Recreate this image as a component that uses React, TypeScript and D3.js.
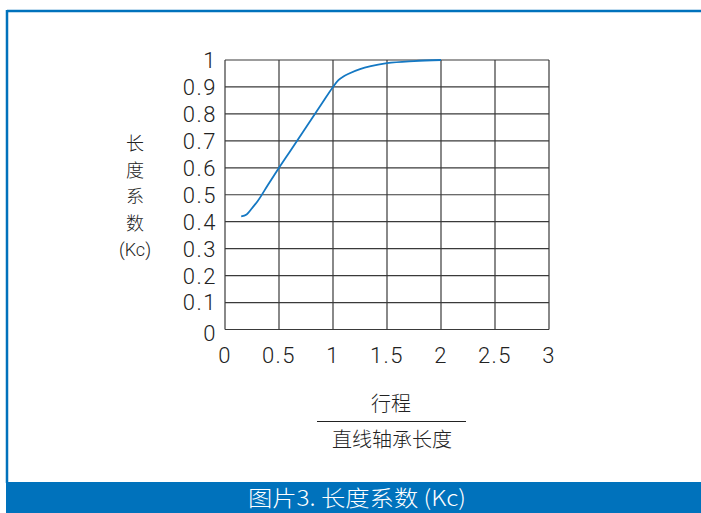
import React from "react";
import * as d3 from "d3";

const strokeRatio: number[] = [0.15, 0.2, 0.25, 0.3, 0.4, 0.5, 0.6, 0.7, 0.8, 0.9, 1.0, 1.05, 1.1, 1.15, 1.25, 1.35, 1.5, 1.75, 2.0];
const lengthCoef: number[] = [0.42, 0.427, 0.45, 0.475, 0.538, 0.6, 0.66, 0.72, 0.78, 0.84, 0.9, 0.925, 0.94, 0.95, 0.966, 0.977, 0.988, 0.996, 1.0];
const xTicks: number[] = [0, 0.5, 1, 1.5, 2, 2.5, 3];
const yTicks: number[] = [0, 0.1, 0.2, 0.3, 0.4, 0.5, 0.6, 0.7, 0.8, 0.9, 1];
const yTitleChars: string[] = ["长", "度", "系", "数", "(Kc)"];
const xTitleTop = "行程";
const xTitleBottom = "直线轴承长度";
const caption = "图片3. 长度系数 (Kc)";

const W = 701;
const H = 513;
const BLUE = "#0072BC";

export default function App() {
  const x = d3.scaleLinear().domain([0, 3]).range([225, 549]);
  const y = d3.scaleLinear().domain([0, 1]).range([329.5, 60]);
  const pts: [number, number][] = strokeRatio.map((d, i) => [d, lengthCoef[i]]);
  const line = d3
    .line<[number, number]>()
    .x((d) => x(d[0]))
    .y((d) => y(d[1]))
    .curve(d3.curveMonotoneX);
  const fmt = (v: number) => (v === 0 ? "0" : v === 1 ? "1" : String(+v.toFixed(1)));
  const num = "Roboto, 'Liberation Sans', Arial, sans-serif";
  const cjk = "'Noto Sans CJK SC', sans-serif";
  return (
    <div style={{ position: "fixed", left: 0, top: 0 }}>
      <svg width={W} height={H} viewBox={`0 0 ${W} ${H}`} style={{ display: "block", background: "#fff" }}>
        {/* frame */}
        <line x1={7} y1={11} x2={W} y2={11} stroke={BLUE} strokeWidth={2.5} />
        <line x1={7} y1={10} x2={7} y2={483} stroke={BLUE} strokeWidth={2.5} />
        <rect x={6} y={482} width={W - 6} height={H - 482} fill={BLUE} />
        <text x={357} y={506} fill="#fff" fontFamily={cjk} fontWeight={300} fontSize={22} textAnchor="middle" textLength={218} lengthAdjust="spacingAndGlyphs">
          {caption}
        </text>

        {/* grid */}
        {yTicks.map((t) => (
          <line key={"h" + t} x1={x(0)} x2={x(3)} y1={y(t)} y2={y(t)} stroke="#3a3a3a" strokeWidth={1.2} />
        ))}
        {xTicks.map((t) => (
          <line key={"v" + t} x1={x(t)} x2={x(t)} y1={y(0)} y2={y(1)} stroke="#3a3a3a" strokeWidth={1.2} />
        ))}

        {/* curve */}
        <path d={line(pts) || ""} fill="none" stroke="#1478C3" strokeWidth={1.8} />

        {/* y tick labels */}
        {yTicks.map((t) => (
          <text key={"yl" + t} x={217} y={y(t) + (t === 0 ? 4 : 0)} dy="0.36em" textAnchor="end" fontFamily={num} fontWeight={300} fontSize={22} fill="#222" letterSpacing={1.5}>
            {fmt(t)}
          </text>
        ))}
        {/* x tick labels */}
        {xTicks.map((t) => (
          <text key={"xl" + t} x={x(t)} y={363} textAnchor="middle" fontFamily={num} fontWeight={300} fontSize={22} fill="#222" letterSpacing={1.5}>
            {fmt(t)}
          </text>
        ))}

        {/* y title */}
        {yTitleChars.map((c, i) => (
          <text key={"yt" + i} x={135} y={144 + i * 26.5} dy="0.36em" textAnchor="middle" fontFamily={c.startsWith("(") ? num : cjk} fontWeight={300} fontSize={18} fill="#222">
            {c}
          </text>
        ))}

        {/* x title */}
        <text x={391} y={411} textAnchor="middle" fontFamily={cjk} fontWeight={300} fontSize={20} fill="#222">
          {xTitleTop}
        </text>
        <line x1={317} x2={466} y1={421.5} y2={421.5} stroke="#222" strokeWidth={1.2} />
        <text x={392} y={447} textAnchor="middle" fontFamily={cjk} fontWeight={300} fontSize={20} fill="#222">
          {xTitleBottom}
        </text>
      </svg>
    </div>
  );
}
